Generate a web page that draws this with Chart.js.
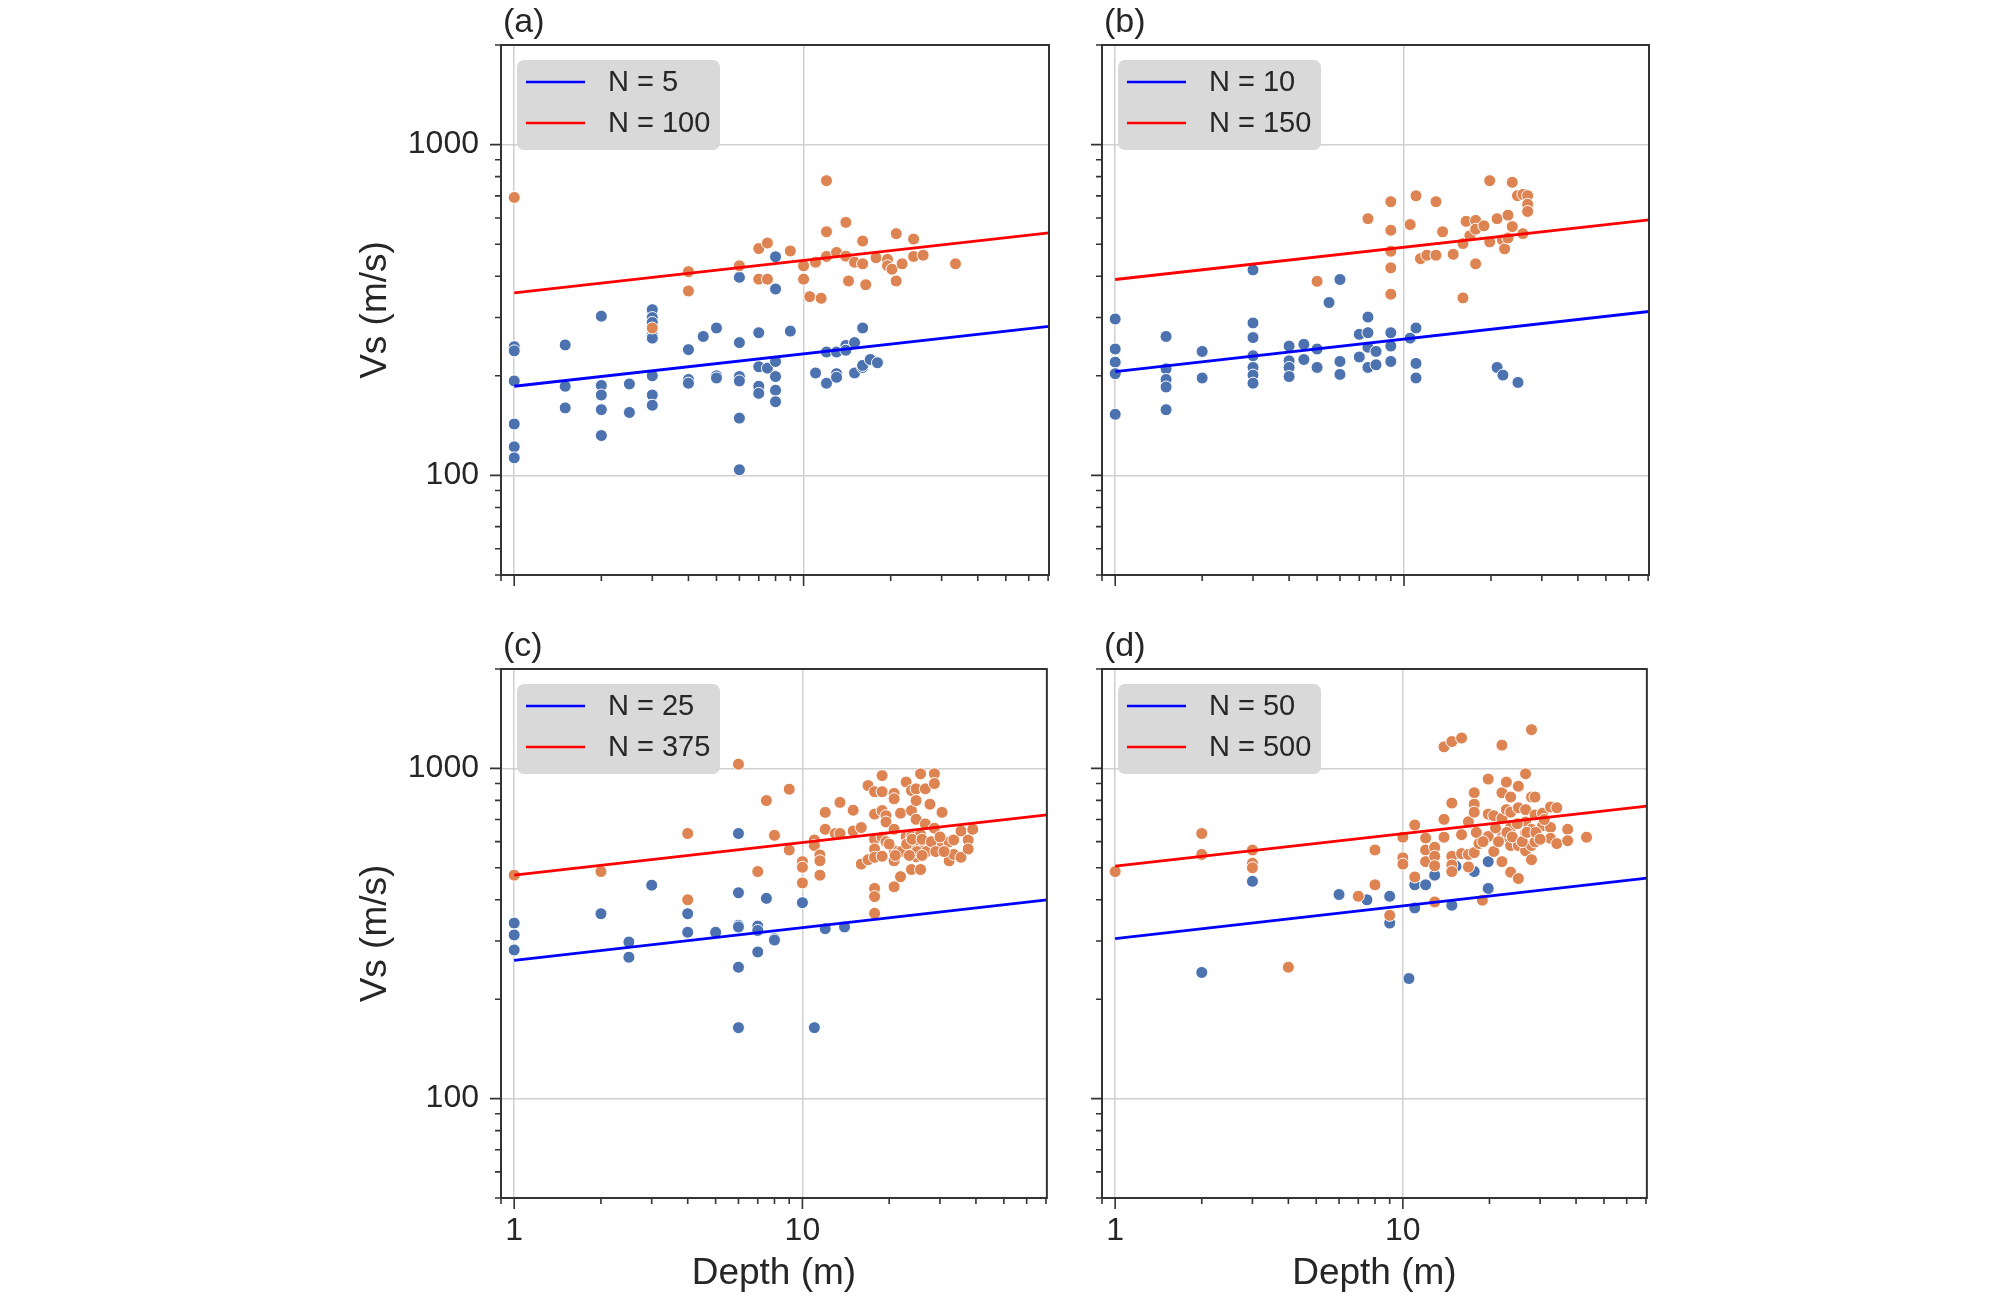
<!DOCTYPE html>
<html>
<head>
<meta charset="utf-8">
<script src="https://cdn.jsdelivr.net/npm/chart.js@4.4.0/dist/chart.umd.min.js"></script>
<style>
  body { margin: 0; background: #fff; }
  #fig { position: relative; width: 2008px; height: 1297px; background: #fff; }
  canvas { position: absolute; }
</style>
</head>
<body>
<div id="fig">
  <canvas id="panelA" width="760" height="620" style="left:300px;top:0px"></canvas>
  <canvas id="panelB" width="600" height="620" style="left:1060px;top:0px"></canvas>
  <canvas id="panelC" width="760" height="677" style="left:300px;top:620px"></canvas>
  <canvas id="panelD" width="600" height="677" style="left:1060px;top:620px"></canvas>
</div>
<script>
// axes
const xMin = 0.9;
const xMax = 70.5;
const yMin = 50;
const yMax = 2000;
const xTickValues = [0.9, 1, 2, 3, 4, 5, 6, 7, 8, 9, 10, 20, 30, 40, 50, 60, 70];
const xMajor = [1, 10];
const yTickValues = [50, 60, 70, 80, 90, 100, 200, 300, 400, 500, 600, 700, 800, 900, 1000, 2000];
const yMajor = [100, 1000];

// fitted lines, Vs at depth 1 m and at the right edge
const fitDepth = [1, 70.5];

// (a)
const aLabels = ['N = 5', 'N = 100'];
const aFitBlue = [186, 282];
const aFitRed = [356, 541];
const aBlueDepth = [1, 1, 1, 1, 1, 1, 1.5, 1.5, 1.5, 2, 2, 2, 2, 2, 2.5, 2.5, 3, 3, 3, 3, 3, 3, 3, 3, 4, 4, 4, 4.5, 5, 5, 5,
  6, 6, 6, 6, 6, 6, 7, 7, 7, 7, 7.5, 8, 8, 8, 8, 8, 8, 9, 11, 12, 12, 13, 13, 13, 14, 14, 15, 15, 16, 16, 16, 17, 18];
const aBlueVs = [245, 238, 193, 143, 122, 113, 248, 186, 160, 303, 187, 175, 158, 132, 189, 155, 317, 300, 290, 265, 260, 200, 175, 163,
  240, 195, 190, 263, 279, 200, 197, 397, 252, 199, 193, 149, 104, 270, 213, 186, 177, 211, 458, 366, 221, 199, 181, 167, 273, 204,
  236, 190, 236, 203, 198, 247, 239, 252, 204, 279, 212, 215, 224, 219];
const aOrangeDepth = [1, 3, 4, 4, 6, 7, 7, 7.5, 7.5, 9, 10, 10, 10.5, 11, 11.5, 12, 12, 12, 13, 14, 14, 14.3, 15, 16, 16, 16.4,
  17.8, 19.5, 19.5, 20.2, 20.9, 20.9, 21.9, 24, 24, 25.9, 33.5];
const aOrangeVs = [692, 279, 413, 361, 430, 485, 392, 504, 392, 477, 430, 392, 347, 441, 343, 778, 545, 459, 472, 582, 460, 387,
  441, 511, 436, 377, 455, 450, 430, 420, 538, 387, 436, 518, 459, 463, 436];

// (b)
const bLabels = ['N = 10', 'N = 150'];
const bFitBlue = [206, 313];
const bFitRed = [391, 592];
const bBlueDepth = [1, 1, 1, 1, 1, 1.5, 1.5, 1.5, 1.5, 1.5, 2, 2, 3, 3, 3, 3, 3, 3, 3, 4, 4, 4, 4, 4.5, 4.5, 5, 5, 5.5, 6, 6, 6,
  7, 7, 7.5, 7.5, 7.5, 7.5, 8, 8, 9, 9, 9, 10.5, 11, 11, 11, 21, 22, 24.8];
const bBlueVs = [297, 241, 220, 203, 153, 263, 210, 195, 185, 158, 237, 197, 418, 289, 261, 230, 212, 201, 190, 246, 222, 212, 199,
  249, 224, 241, 212, 333, 391, 221, 202, 267, 228, 301, 270, 244, 212, 237, 216, 270, 246, 221, 260, 279, 218, 197, 212, 201, 191];
const bOrangeDepth = [5, 7.5, 9, 9, 9, 9, 9, 10.5, 11, 11.4, 12, 12.9, 12.9, 13.6, 14.8, 16, 16, 16.4, 16.9, 17.7, 17.7, 17.7,
  18.9, 19.8, 19.8, 21, 21.9, 22.3, 22.9, 22.9, 23.7, 23.7, 24.7, 25.8, 25.8, 26.8, 26.8, 26.8];
const bOrangeVs = [386, 597, 672, 551, 476, 424, 353, 573, 700, 452, 463, 672, 463, 545, 466, 502, 344, 586, 530, 590, 555, 436,
  568, 778, 508, 597, 515, 484, 612, 522, 769, 565, 701, 707, 538, 701, 660, 628];

// (c)
const cLabels = ['N = 25', 'N = 375'];
const cFitBlue = [262, 400];
const cFitRed = [475, 723];
const cBlueDepth = [1, 1, 1, 2, 2.5, 2.5, 3, 4, 4, 5, 6, 6, 6, 6, 6, 6, 7, 7, 7, 7.5, 8, 8, 10, 11, 12, 14];
const cBlueVs = [340, 313, 282, 363, 298, 268, 443, 363, 319, 319, 635, 420, 335, 331, 250, 164, 333, 323, 278, 404, 305, 302,
  392, 164, 327, 331];
const cOrangeDepth = [1, 2, 4, 4, 6, 7, 7.5, 8, 9, 9, 10, 10, 10, 11, 11, 11.5, 11.5, 11.5, 12, 12, 13, 13.5, 13.5, 15, 15, 16, 16,
  16.9, 16.9, 17.8, 17.8, 17.8, 17.8, 17.8, 17.8, 17.8, 17.8, 18.9, 18.9, 18.9, 18.9, 18.9, 19.5, 19.5,
  20.8, 20.8, 20.8, 20.8, 20.8, 20.8, 21.9, 21.9, 22.9, 22.9, 22.9, 23.9, 23.9, 23.9, 23.9, 24.8, 24.8, 24.8, 24.8, 24.8,
  25.7, 25.7, 25.7, 25.7, 26.7, 26.7, 26.7, 27.7, 27.7, 28.7, 28.7, 28.7, 28.7, 30.5, 30.5, 32.3, 32.3, 33.5, 33.5,
  35.5, 35.5, 37.6, 37.6, 39, 19.5, 20, 22, 23, 24, 25, 26, 27, 28, 29, 30, 31, 21, 23.5, 26];
const cOrangeVs = [475, 487, 635, 400, 1030, 487, 799, 627, 865, 566, 522, 502, 450, 607, 584, 547, 525, 475, 736, 654, 635, 789,
  635, 747, 646, 662, 513, 887, 529, 850, 727, 610, 570, 538, 433, 409, 364, 951, 850, 745, 619, 542, 719, 688,
  840, 809, 654, 563, 525, 438, 732, 470, 909, 622, 566, 857, 745, 622, 494, 867, 799, 701, 577, 540,
  963, 630, 592, 494, 867, 679, 584, 779, 584, 963, 900, 659, 566, 736, 584, 599, 525, 607, 549,
  646, 538, 607, 570, 654, 600, 590, 560, 590, 610, 560, 610, 560, 600, 560, 620, 560, 545, 545, 545];

// (d)
const dLabels = ['N = 50', 'N = 500'];
const dFitBlue = [305, 465];
const dFitRed = [506, 769];
const dBlueDepth = [2, 3, 6, 7.5, 9, 9, 10.5, 11, 11, 12, 12.9, 14.8, 15.3, 17.7, 19.8, 19.8];
const dBlueVs = [241, 455, 415, 400, 410, 340, 231, 444, 378, 444, 475, 385, 505, 487, 522, 433];
const dOrangeDepth = [1, 2, 2, 3, 3, 3, 4, 7, 8, 8, 9, 10, 10, 10, 11, 11, 12, 12, 12, 12.9, 12.9, 12.9, 12.9, 13.9, 13.9, 13.9,
  14.8, 14.8, 14.8, 14.8, 14.8, 16, 16, 16, 16.9, 16.9, 16.9, 17.7, 17.7, 17.7, 17.7, 18.4, 18.9, 19.8, 19.8, 19.8, 20.7, 20.7,
  22.1, 22.1, 22.1, 22.1, 22.1, 22.9, 22.9, 22.9, 23.7, 23.7, 23.7, 23.7, 23.7, 25.2, 25.2, 25.2, 25.2,
  26.7, 26.7, 26.7, 26.7, 26.7, 28, 28, 28, 28, 28, 28.8, 28.8, 28.8, 30.6, 30.6, 32.6, 32.6, 32.6, 34.3, 34.3, 37.4, 37.4, 43.5,
  18, 19, 21, 21.5, 23, 24, 25, 26, 27, 29, 30, 31];
const dOrangeVs = [487, 635, 549, 566, 516, 500, 250, 410, 566, 444, 359, 619, 536, 513, 674, 469, 615, 566, 522, 577, 542, 507, 394,
  1162, 701, 619, 1206, 785, 542, 510, 487, 1236, 630, 552, 689, 549, 503, 844, 779, 737, 556, 592, 399, 928, 727, 622, 719, 560,
  1176, 844, 705, 619, 522, 909, 750, 622, 819, 737, 662, 584, 485, 883, 760, 584, 464,
  963, 750, 688, 638, 563, 1310, 819, 654, 584, 529, 819, 723, 599, 732, 671, 764, 662, 614, 760, 592, 654, 604, 619,
  640, 600, 660, 600, 640, 620, 680, 600, 640, 640, 610, 700];

const textColor = '#262626';
const frameColor = '#333333';
const gridColor = '#d0d0d0';
const fontFamily = "'Liberation Sans', Arial, sans-serif";

function toPoints(xs, ys) {
    return xs.map((x, i) => ({ x: x, y: ys[i] }));
}

// frame, tick marks, legend box and panel letter
function decorPlugin(letter) {
    return {
        id: 'decor',
        afterDraw(chart) {
            const ctx = chart.ctx;
            const a = chart.chartArea;
            const xs = chart.scales.x;
            const ys = chart.scales.y;
            ctx.save();
            ctx.strokeStyle = frameColor;
            ctx.lineWidth = 1.6;
            ctx.beginPath();
            for (const v of xTickValues) {
                const px = xs.getPixelForValue(v);
                const len = xMajor.includes(v) ? 11 : 6;
                ctx.moveTo(px, a.bottom);
                ctx.lineTo(px, a.bottom + len);
            }
            for (const v of yTickValues) {
                const py = ys.getPixelForValue(v);
                const len = yMajor.includes(v) ? 11 : 6;
                ctx.moveTo(a.left, py);
                ctx.lineTo(a.left - len, py);
            }
            ctx.stroke();

            ctx.lineWidth = 2;
            ctx.strokeRect(a.left, a.top, a.right - a.left, a.bottom - a.top);

            // legend
            const lx = a.left + 16, ly = a.top + 15;
            ctx.fillStyle = '#d9d9d9';
            ctx.beginPath();
            ctx.roundRect(lx, ly, 203, 90, 7);
            ctx.fill();
            ctx.font = '29px ' + fontFamily;
            ctx.textBaseline = 'middle';
            ctx.textAlign = 'left';
            chart.data.datasets.slice(0, 2).forEach((ds, i) => {
                const ry = ly + 22 + i * 41;
                ctx.strokeStyle = ds.borderColor;
                ctx.lineWidth = 2.5;
                ctx.beginPath();
                ctx.moveTo(lx + 9, ry);
                ctx.lineTo(lx + 68, ry);
                ctx.stroke();
                ctx.fillStyle = textColor;
                ctx.fillText(ds.label, lx + 91, ry + 1);
            });

            ctx.font = '34px ' + fontFamily;
            ctx.textBaseline = 'alphabetic';
            ctx.fillStyle = textColor;
            ctx.fillText(letter, a.left + 2, a.top - 13);
            ctx.restore();
        }
    };
}

function makePanel(id, p) {
    const leftCol = p.leftCol;
    const bottomRow = p.bottomRow;
    new Chart(document.getElementById(id), {
        type: 'scatter',
        data: {
            datasets: [
                { label: p.labels[0], data: toPoints(fitDepth, p.fitBlue), showLine: true, borderColor: '#0000ff',
                  borderWidth: 2.8, pointRadius: 0, order: 0 },
                { label: p.labels[1], data: toPoints(fitDepth, p.fitRed), showLine: true, borderColor: '#ff0000',
                  borderWidth: 2.8, pointRadius: 0, order: 0 },
                { label: 'low', data: toPoints(p.blueDepth, p.blueVs), backgroundColor: '#4c72b0', borderColor: '#ffffff',
                  borderWidth: 1, pointRadius: 6, order: 2 },
                { label: 'high', data: toPoints(p.orangeDepth, p.orangeVs), backgroundColor: '#dd8452', borderColor: '#ffffff',
                  borderWidth: 1, pointRadius: 6, order: 1 }
            ]
        },
        options: {
            responsive: false,
            animation: false,
            layout: { padding: { top: bottomRow ? 49 : 45, right: 11, left: 0, bottom: 0 } },
            plugins: { legend: { display: false }, tooltip: { enabled: false } },
            scales: {
                x: {
                    type: 'logarithmic',
                    min: xMin,
                    max: xMax,
                    afterBuildTicks: s => { s.ticks = xTickValues.map(v => ({ value: v })); },
                    afterFit: s => { s.height = bottomRow ? 99 : 45; },
                    grid: {
                        color: c => (c.tick && xMajor.includes(c.tick.value)) ? gridColor : 'rgba(0,0,0,0)',
                        lineWidth: 1.5,
                        drawTicks: false
                    },
                    border: { display: false },
                    ticks: {
                        display: bottomRow,
                        autoSkip: false,
                        maxRotation: 0,
                        padding: 14,
                        color: textColor,
                        font: { family: fontFamily, size: 32 },
                        callback: v => xMajor.includes(v) ? String(v) : ''
                    },
                    title: {
                        display: bottomRow,
                        text: 'Depth (m)',
                        color: textColor,
                        font: { family: fontFamily, size: 37 },
                        padding: { top: 0, bottom: 1 }
                    }
                },
                y: {
                    type: 'logarithmic',
                    min: yMin,
                    max: yMax,
                    afterBuildTicks: s => { s.ticks = yTickValues.map(v => ({ value: v })); },
                    afterFit: s => { s.width = leftCol ? 201 : 42; },
                    grid: {
                        color: c => (c.tick && yMajor.includes(c.tick.value)) ? gridColor : 'rgba(0,0,0,0)',
                        lineWidth: 1.5,
                        drawTicks: false
                    },
                    border: { display: false },
                    ticks: {
                        display: leftCol,
                        autoSkip: false,
                        padding: 22,
                        color: textColor,
                        font: { family: fontFamily, size: 32 },
                        callback: v => yMajor.includes(v) ? String(v) : ''
                    },
                    title: {
                        display: leftCol,
                        text: 'Vs (m/s)',
                        color: textColor,
                        font: { family: fontFamily, size: 37 },
                        padding: { top: 54, bottom: 0 }
                    }
                }
            }
        },
        plugins: [decorPlugin(p.letter)]
    });
}

makePanel('panelA', { letter: '(a)', leftCol: true, bottomRow: false, labels: aLabels, fitBlue: aFitBlue, fitRed: aFitRed,
    blueDepth: aBlueDepth, blueVs: aBlueVs, orangeDepth: aOrangeDepth, orangeVs: aOrangeVs });
makePanel('panelB', { letter: '(b)', leftCol: false, bottomRow: false, labels: bLabels, fitBlue: bFitBlue, fitRed: bFitRed,
    blueDepth: bBlueDepth, blueVs: bBlueVs, orangeDepth: bOrangeDepth, orangeVs: bOrangeVs });
makePanel('panelC', { letter: '(c)', leftCol: true, bottomRow: true, labels: cLabels, fitBlue: cFitBlue, fitRed: cFitRed,
    blueDepth: cBlueDepth, blueVs: cBlueVs, orangeDepth: cOrangeDepth, orangeVs: cOrangeVs });
makePanel('panelD', { letter: '(d)', leftCol: false, bottomRow: true, labels: dLabels, fitBlue: dFitBlue, fitRed: dFitRed,
    blueDepth: dBlueDepth, blueVs: dBlueVs, orangeDepth: dOrangeDepth, orangeVs: dOrangeVs });
</script>
</body>
</html>
